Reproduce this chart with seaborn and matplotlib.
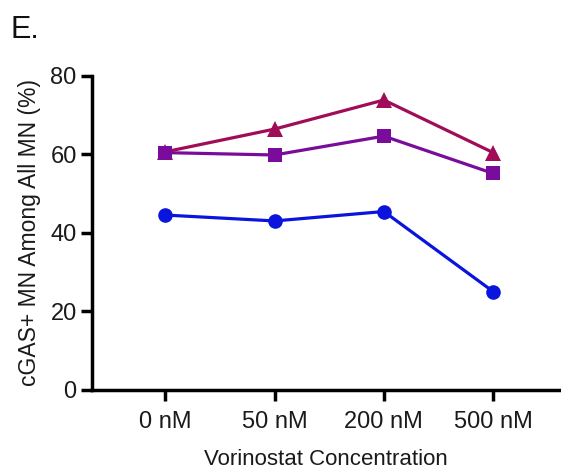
import matplotlib
matplotlib.use("Agg")
import matplotlib.pyplot as plt
import seaborn as sns
import pandas as pd

concentrations = ["0 nM", "50 nM", "200 nM", "500 nM"]
series_names = ["Triangle", "Square", "Circle"]
circle_vals = [44.5, 43.0, 45.4, 25.0]
square_vals = [60.4, 59.8, 64.6, 55.1]
triangle_vals = [60.6, 66.4, 73.8, 60.4]
yticks = [0, 20, 40, 60, 80]

colors = {"Circle": "#0A14DC", "Square": "#7A0C9C", "Triangle": "#A00C58"}
markers = {"Circle": "o", "Square": "s", "Triangle": "^"}

rows = []
for name, vals in zip(series_names, [triangle_vals, square_vals, circle_vals]):
    for c, v in zip(concentrations, vals):
        rows.append({"conc": c, "value": v, "series": name})
df = pd.DataFrame(rows)

sns.set_style("ticks")
plt.rcParams["font.family"] = ["Liberation Sans", "DejaVu Sans"]

fig = plt.figure(figsize=(5.61, 4.73), dpi=100)
ax = fig.add_axes([0.164, 0.176, 0.834, 0.664])

for name in series_names:
    sub = df[df["series"] == name]
    sns.lineplot(data=sub, x="conc", y="value", ax=ax, color=colors[name],
                 marker=markers[name], markersize=10.5 if name != "Triangle" else 11,
                 markeredgewidth=0, linewidth=2.3, sort=False, legend=False)

ax.set_xlim(-0.67, 3.61)
ax.set_ylim(0, 80)
ax.set_yticks(yticks)
ax.set_xticks(range(len(concentrations)))
ax.set_xticklabels(concentrations)
ax.tick_params(axis="both", labelsize=17, width=2.5, length=8, color="black", labelcolor="#1a1a1a", direction="out")
ax.tick_params(axis="y", pad=3)
ax.tick_params(axis="x", pad=7)
for s in ["top", "right"]:
    ax.spines[s].set_visible(False)
for s in ["left", "bottom"]:
    ax.spines[s].set_linewidth(2.5)
    ax.spines[s].set_color("black")

ax.set_xlabel("Vorinostat Concentration", fontsize=16, color="#1a1a1a", labelpad=12)
ax.set_ylabel("cGAS+ MN Among All MN (%)", fontsize=16.5, color="#1a1a1a", labelpad=7)

fig.text(0.018, 0.968, "E.", fontsize=22, va="top", ha="left", color="#111111")

fig.savefig("out.png", dpi=100)
